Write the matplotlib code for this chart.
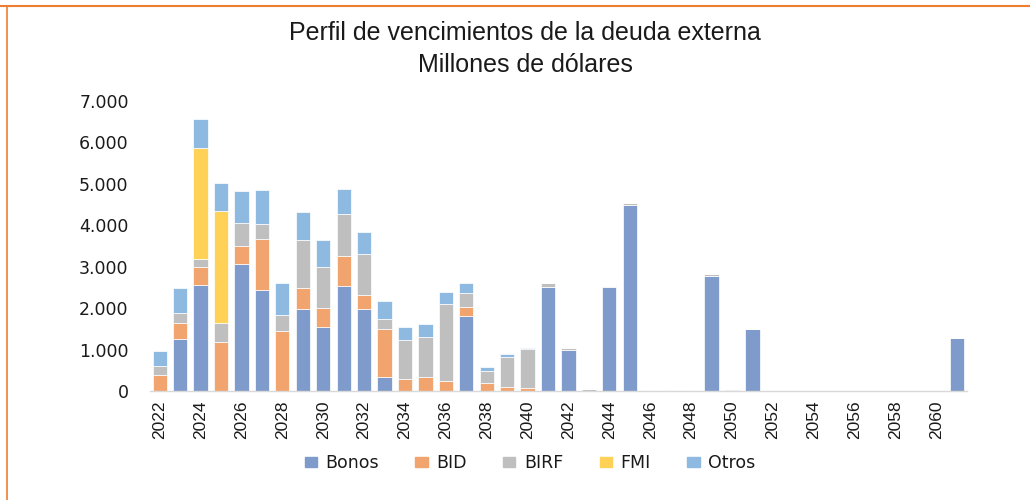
import matplotlib
matplotlib.use("Agg")
import matplotlib.pyplot as plt
from matplotlib.lines import Line2D
from matplotlib.ticker import FuncFormatter, MultipleLocator
import numpy as np

years = list(range(2022, 2062))

bonos = [0, 1250, 2560, 0, 3065, 2445, 0, 1985, 1535, 2535,
         1985, 340, 0, 0, 0, 1820, 0, 0, 0, 2500,
         990, 0, 2500, 4495, 0, 0, 0, 2785, 0, 1490,
         0, 0, 0, 0, 0, 0, 0, 0, 0, 1290]
bid = [380, 400, 425, 1175, 445, 1215, 1450, 490, 475, 730,
       330, 1165, 295, 345, 240, 215, 185, 95, 65, 0,
       0, 0, 0, 0, 0, 0, 0, 0, 0, 0,
       0, 0, 0, 0, 0, 0, 0, 0, 0, 0]
birf = [230, 225, 195, 475, 545, 370, 395, 1165, 990, 1005,
        1000, 235, 935, 950, 1865, 325, 305, 715, 940, 105,
        45, 40, 35, 35, 30, 30, 30, 40, 0, 0,
        0, 0, 0, 0, 0, 0, 0, 0, 0, 0]
fmi = [0, 0, 2695, 2700, 0, 0, 0, 0, 0, 0,
       0, 0, 0, 0, 0, 0, 0, 0, 0, 0,
       0, 0, 0, 0, 0, 0, 0, 0, 0, 0,
       0, 0, 0, 0, 0, 0, 0, 0, 0, 0]
otros = [355, 600, 685, 660, 770, 815, 755, 685, 650, 605,
         515, 425, 320, 320, 275, 255, 90, 80, 30, 0,
         0, 10, 0, 0, 0, 0, 0, 0, 30, 0,
         0, 0, 0, 0, 0, 0, 0, 0, 0, 0]

series = [("Bonos", bonos, "#7F9BCB"),
          ("BID", bid, "#F2A46E"),
          ("BIRF", birf, "#BFBFBF"),
          ("FMI", fmi, "#FFD257"),
          ("Otros", otros, "#8EBAE2")]

title1 = "Perfil de vencimientos de la deuda externa"
title2 = "Millones de dólares"

fig = plt.figure(figsize=(10.30, 5.00), dpi=100)
ax = fig.add_axes([149.5 / 1030, 109 / 500, (967 - 149.5) / 1030, 290 / 500])

x = np.arange(len(years))
bottom = np.zeros(len(years))
for name, vals, col in series:
    v = np.array(vals, dtype=float)
    ax.bar(x, v, width=0.7, bottom=bottom, color=col, edgecolor="white",
           linewidth=0.5, label=name, zorder=2)
    bottom += v

ax.set_xlim(-0.5, len(years) - 0.5)
ax.set_ylim(0, 7000)
ax.yaxis.set_major_locator(MultipleLocator(1000))
ax.yaxis.set_major_formatter(FuncFormatter(lambda v, p: f"{int(v):,}".replace(",", ".")))
ax.set_xticks(x[::2])
ax.set_xticklabels([str(y) for y in years[::2]], rotation=90,
                   family=["Liberation Sans Narrow", "Liberation Sans"], fontsize=12.5)
for lab in ax.get_yticklabels():
    lab.set_family("DejaVu Sans")
    lab.set_fontsize(12.5)
    lab.set_color("#1A1A1A")
ax.tick_params(axis="y", length=0, pad=15)
ax.tick_params(axis="x", length=0, pad=7, colors="#1A1A1A")
for s in ["top", "right", "left"]:
    ax.spines[s].set_visible(False)
ax.spines["bottom"].set_color("#D9D9D9")
ax.spines["bottom"].set_linewidth(1.0)

fig.text(525 / 1030, 1 - 33 / 500, title1, ha="center", va="center",
         fontsize=18, family="Liberation Sans", color="#1A1A1A")
fig.text(525 / 1030, 1 - 65 / 500, title2, ha="center", va="center",
         fontsize=18, family="Liberation Sans", color="#1A1A1A")

handles = [plt.Rectangle((0, 0), 1, 1, color=c) for _, _, c in series]
leg = fig.legend(handles, [n for n, _, _ in series], loc="center",
                 bbox_to_anchor=(530 / 1030, 1 - 463 / 500), ncol=5, frameon=False,
                 prop={"family": "DejaVu Sans", "size": 12.5},
                 handlelength=0.7, handleheight=0.55, handletextpad=0.5,
                 columnspacing=2.1)
for t in leg.get_texts():
    t.set_color("#1A1A1A")

# orange frame lines (top and left)
fig.add_artist(Line2D([0, 1], [1 - 6 / 500, 1 - 6 / 500], transform=fig.transFigure,
                      color="#ED7D31", linewidth=1.5))
fig.add_artist(Line2D([7 / 1030, 7 / 1030], [0, 1 - 6 / 500], transform=fig.transFigure,
                      color="#ED7D31", linewidth=1.2))

fig.savefig("out.png", dpi=100)
